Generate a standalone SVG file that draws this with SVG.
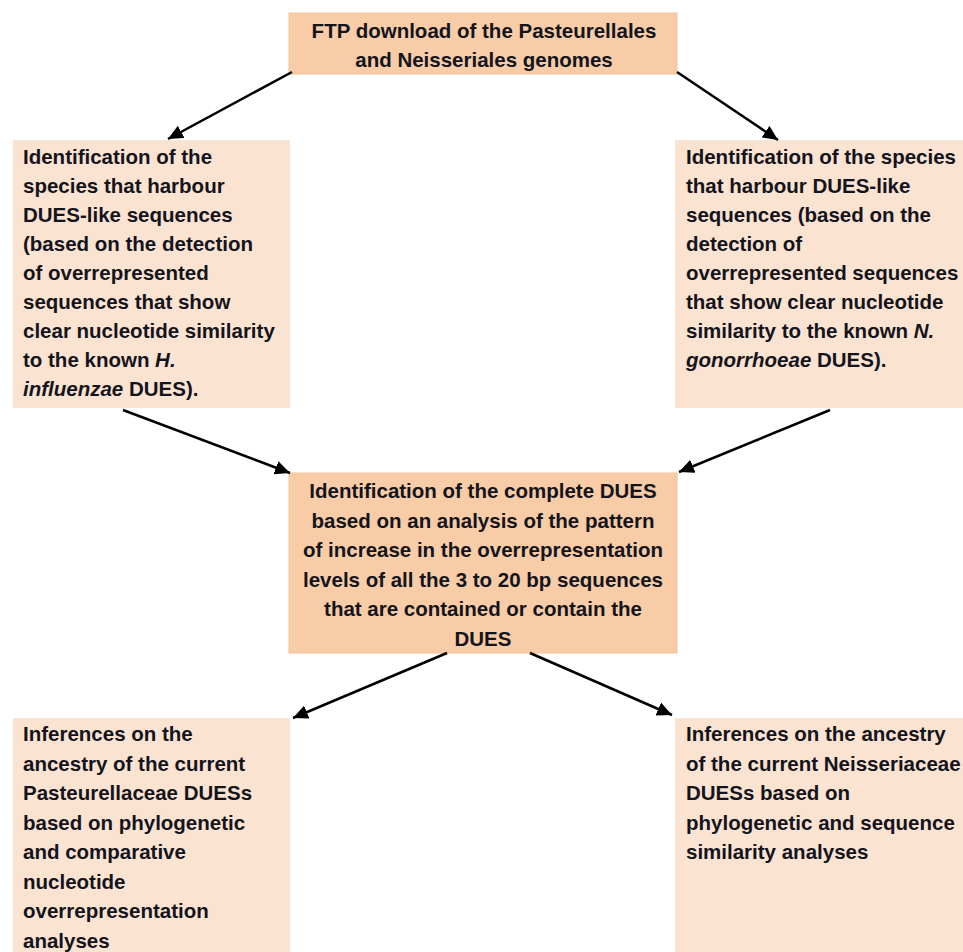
<svg xmlns="http://www.w3.org/2000/svg" width="963" height="952" viewBox="0 0 963 952">
<defs>
<style>
.dark{fill:#F7CCA6;stroke:#F2C39A;stroke-width:1}
.light{fill:#FBE3D2}
text{font-family:"Liberation Sans",Arial,sans-serif;font-weight:bold;font-size:20.5px;fill:#14141c}
.c{text-anchor:middle}
.i{font-style:italic}
.conn line{stroke:#000;stroke-width:2.5;marker-end:url(#ah)}
</style>
<marker id="ah" markerUnits="userSpaceOnUse" markerWidth="16" markerHeight="14" refX="15" refY="7" orient="auto">
<path d="M0,0 L15,7 L0,14 Z" fill="#000"/>
</marker>
</defs>
<rect width="963" height="952" fill="#fff"/>

<g id="ftp">
<rect class="dark" x="289" y="13" width="388" height="61"/>
<text class="c" x="484" y="38">FTP download of the Pasteurellales</text>
<text class="c" x="484" y="67">and Neisseriales genomes</text>
</g>

<g id="ident-pasteurellales">
<rect class="light" x="13" y="140" width="277" height="268"/>
<text x="23" y="164">Identification of the</text>
<text x="23" y="193">species that harbour</text>
<text x="23" y="222">DUES-like sequences</text>
<text x="23" y="251">(based on the detection</text>
<text x="23" y="280">of overrepresented</text>
<text x="23" y="309">sequences that show</text>
<text x="23" y="338">clear nucleotide similarity</text>
<text x="23" y="367">to the known <tspan class="i">H.</tspan></text>
<text x="23" y="396"><tspan class="i">influenzae</tspan> DUES).</text>
</g>

<g id="ident-neisseriales">
<rect class="light" x="675" y="140" width="288" height="268"/>
<text x="686" y="164">Identification of the species</text>
<text x="686" y="193">that harbour DUES-like</text>
<text x="686" y="222">sequences (based on the</text>
<text x="686" y="251">detection of</text>
<text x="686" y="280">overrepresented sequences</text>
<text x="686" y="309">that show clear nucleotide</text>
<text x="686" y="338">similarity to the known <tspan class="i">N.</tspan></text>
<text x="686" y="367"><tspan class="i">gonorrhoeae</tspan> DUES).</text>
</g>

<g id="complete-dues">
<rect class="dark" x="289" y="473" width="388" height="180"/>
<text class="c" x="483" y="498">Identification of the complete DUES</text>
<text class="c" x="483" y="527.5">based on an analysis of the pattern</text>
<text class="c" x="483" y="557">of increase in the overrepresentation</text>
<text class="c" x="483" y="586.5">levels of all the 3 to 20 bp sequences</text>
<text class="c" x="483" y="616">that are contained or contain the</text>
<text class="c" x="483" y="645.5">DUES</text>
</g>

<g id="inferences-pasteurellaceae">
<rect class="light" x="13" y="718" width="277" height="234"/>
<text x="23" y="741">Inferences on the</text>
<text x="23" y="770.5">ancestry of the current</text>
<text x="23" y="800">Pasteurellaceae DUESs</text>
<text x="23" y="829.5">based on phylogenetic</text>
<text x="23" y="859">and comparative</text>
<text x="23" y="888.5">nucleotide</text>
<text x="23" y="918">overrepresentation</text>
<text x="23" y="947.5">analyses</text>
</g>

<g id="inferences-neisseriaceae">
<rect class="light" x="675" y="718" width="288" height="234"/>
<text x="686" y="741">Inferences on the ancestry</text>
<text x="686" y="770.5">of the current Neisseriaceae</text>
<text x="686" y="800">DUESs based on</text>
<text x="686" y="829.5">phylogenetic and sequence</text>
<text x="686" y="859">similarity analyses</text>
</g>

<g id="connectors" class="conn">
<line x1="292" y1="72" x2="168" y2="139"/>
<line x1="677" y1="72" x2="778" y2="140"/>
<line x1="123" y1="410" x2="290" y2="473"/>
<line x1="830" y1="410" x2="679" y2="472"/>
<line x1="447" y1="653" x2="293" y2="718"/>
<line x1="530" y1="653" x2="672" y2="715"/>
</g>
</svg>
